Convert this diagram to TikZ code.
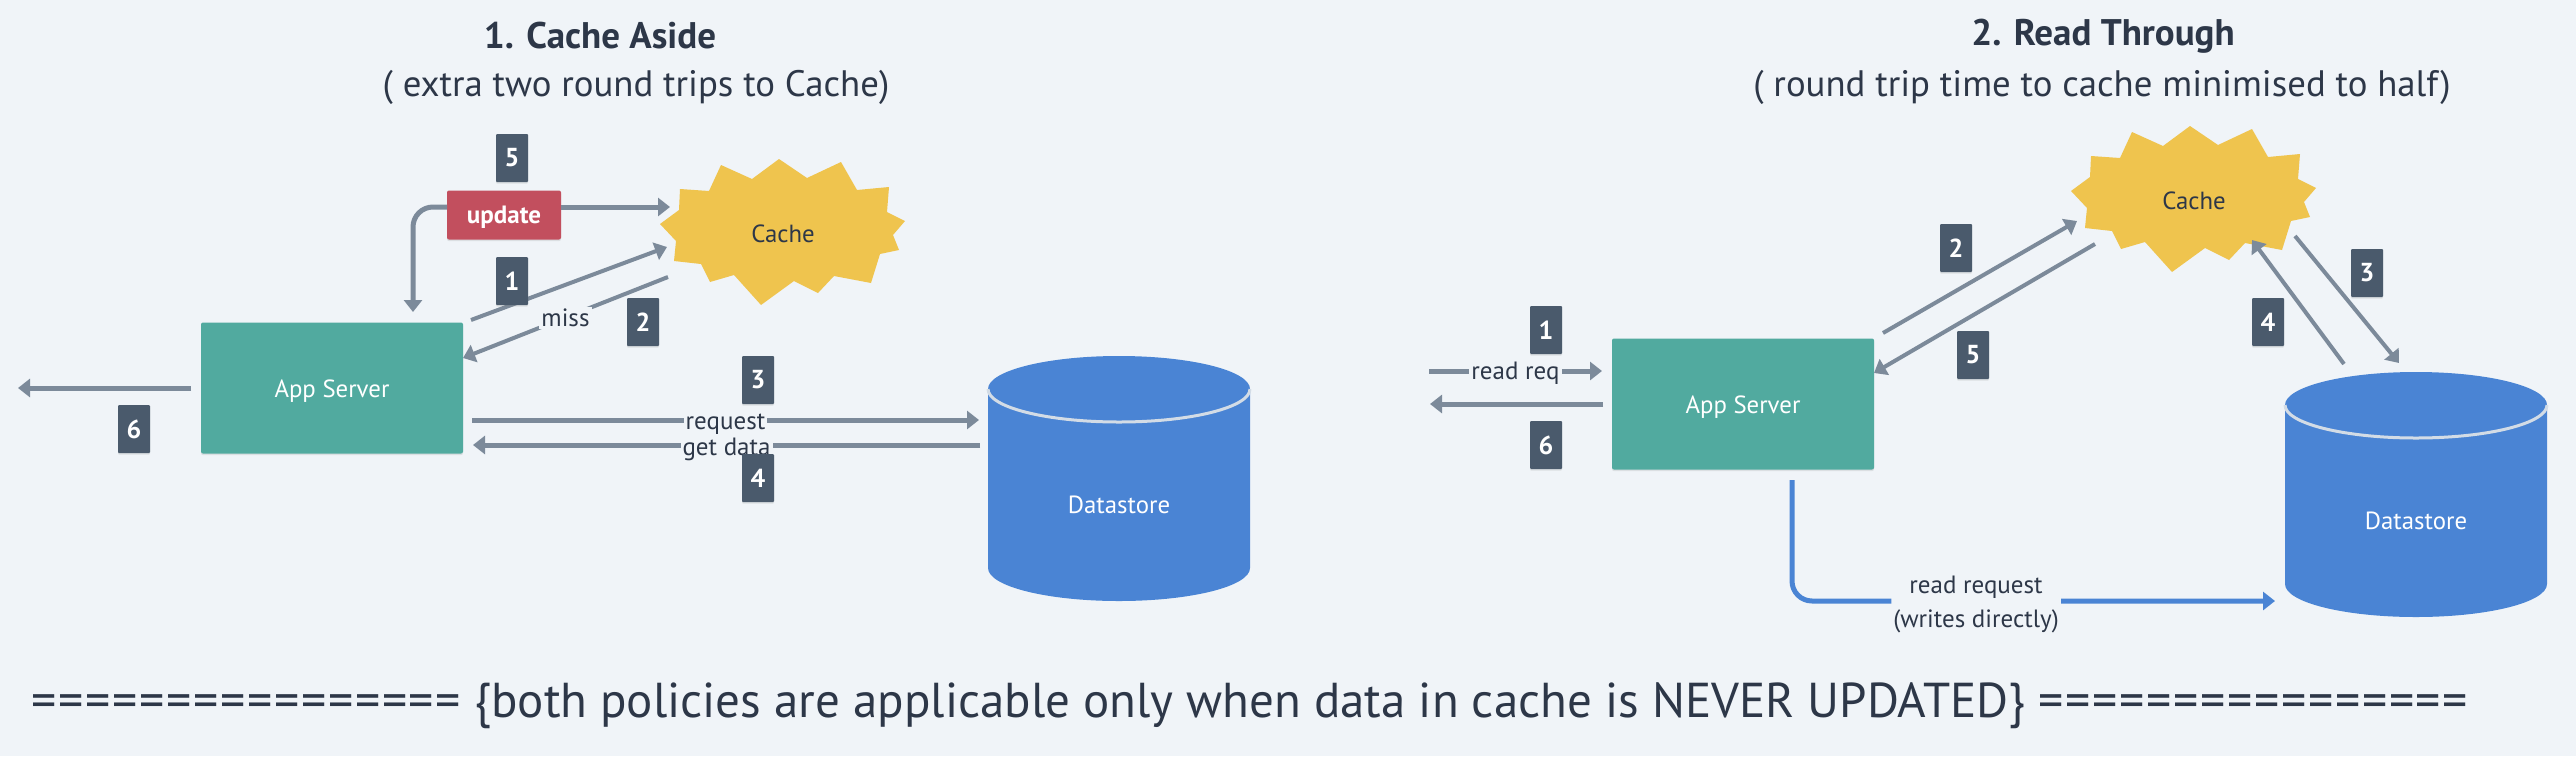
\documentclass[tikz,border=0pt]{standalone}
\usepackage{fontspec}
\setmainfont{PT Sans}
\usetikzlibrary{arrows.meta,shadows}
\definecolor{bgc}{HTML}{F0F4F8}
\definecolor{inkc}{HTML}{2D3748}
\definecolor{flowc}{HTML}{7C8A9A}
\definecolor{badgec}{HTML}{4A5A6C}
\definecolor{tealc}{HTML}{51AA9F}
\definecolor{redc}{HTML}{C24F5E}
\definecolor{yellowc}{HTML}{EFC44E}
\definecolor{bluec}{HTML}{4A84D4}
\definecolor{rimc}{HTML}{D3DCE6}
\tikzset{
  softshadow/.style={drop shadow={shadow xshift=0pt,shadow yshift=-0.8pt,opacity=.18}},
  flow/.style={draw=flowc,line width=2.5pt,-{Triangle[length=6pt,width=9pt]}},
  thinflow/.style={flow,line width=2pt},
  bluearrow/.style={flow,draw=bluec,rounded corners=10pt},
  lab/.style={fill=bgc,text=inkc,font=\fontsize{12.5}{15}\selectfont,inner sep=1pt,align=center},
  badge/.style={fill=badgec,text=white,font=\fontsize{13}{15}\selectfont\bfseries,rounded corners=0.5pt,
    minimum width=16pt,minimum height=24pt,inner sep=0pt,softshadow},
  appbox/.style={fill=tealc,text=white,font=\fontsize{12.4}{15}\selectfont,rounded corners=1pt,
    minimum width=131pt,minimum height=65.5pt,inner sep=0pt,text height=12pt,text depth=2.5pt,softshadow},
  updbox/.style={fill=redc,text=white,font=\fontsize{12.5}{15}\selectfont\bfseries,rounded corners=1pt,
    minimum width=57pt,minimum height=24.5pt,inner sep=0pt,text height=11pt,text depth=2.5pt,softshadow},
  heading/.style={text=inkc,font=\fontsize{18.5}{22}\selectfont\bfseries,inner sep=0pt},
  subheading/.style={text=inkc,font=\fontsize{18.4}{22}\selectfont,inner sep=0pt},
  boxtext/.style={font=\fontsize{12.4}{15}\selectfont,inner sep=0pt},
}
\newcommand{\cachestar}[2]{
  \fill[yellowc,shift={(#1,#2)}] (-4,-75) -- (24,-56) -- (58,-72) -- (74,-44) -- (106,-47) -- (104,-22)
    -- (122,-13) -- (110,1) -- (116,16) -- (97,20) -- (88,49) -- (51,42) -- (35,59) -- (11,47)
    -- (-22,71) -- (-49,41) -- (-73,48) -- (-82,30) -- (-109,27) -- (-107,7) -- (-123,-10)
    -- (-104,-24) -- (-103,-45) -- (-74,-43) -- (-62,-69) -- (-31,-55) -- cycle;
}
\newcommand{\datastore}[2]{
  \fill[bluec,shift={(#1,#2)}] (-131,33) arc[start angle=180,end angle=0,x radius=65.5pt,y radius=16.5pt]
    -- (131,212) arc[start angle=0,end angle=-180,x radius=65.5pt,y radius=16.5pt] -- cycle;
  \draw[rimc,line width=1.5pt,shift={(#1,#2)}] (-131,33) arc[start angle=180,end angle=360,x radius=65.5pt,y radius=16.5pt];
}
\newcommand{\eqrun}{{\addfontfeature{LetterSpace=3.4}\fontsize{25}{28}\selectfont ================}}
\begin{document}
\begin{tikzpicture}[x=0.5pt,y=-0.5pt]
  \fill[bgc] (0,0) rectangle (2576,756);
  \useasboundingbox (0,0) rectangle (2576,756);

  \node[heading] (title1) at (600,36) {1. Cache Aside};
  \node[subheading] (sub1) at (636,87) {( extra two round trips to Cache)};
  \cachestar{783}{234}
  \datastore{1119}{356}
  \node[boxtext,text=inkc] (cache1) at (783,234) {Cache};
  \node[boxtext,text=white] (store1) at (1119,505) {Datastore};
  \node[appbox] (app1) at (332,388) {App Server};
  \node[updbox] (upd1) at (504,215) {update};

  \coordinate (upd1r) at (561,207);
  \coordinate (upd1l) at (447,207);
  \coordinate (upd1c) at (413,207);
  \coordinate (cache1a) at (670,207);
  \coordinate (app1a) at (413,312);
  \coordinate (hit1s) at (471,320);
  \coordinate (hit1e) at (667,247);
  \coordinate (miss1s) at (668,277);
  \coordinate (miss1e) at (463,358);
  \coordinate (req1s) at (472,420);
  \coordinate (req1e) at (979,420);
  \coordinate (get1s) at (980,445);
  \coordinate (get1e) at (473,445);
  \coordinate (out1s) at (191,388);
  \coordinate (out1e) at (18,388);

  \draw[flow] (upd1r) -- (cache1a);
  \draw[flow,rounded corners=10pt] (upd1l) -- (upd1c) -- (app1a);
  \draw[thinflow] (hit1s) -- (hit1e);
  \draw[thinflow] (miss1s) -- node[lab] (missl) {miss} (miss1e);
  \draw[flow] (req1s) -- node[lab,yshift=-2pt] (reql) {request} (req1e);
  \draw[flow] (get1s) -- node[lab,yshift=-2pt] (getl) {get data} (get1e);
  \draw[flow] (out1s) -- (out1e);

  \node[badge] (b15) at (512,158) {5};
  \node[badge] (b11) at (512,281) {1};
  \node[badge] (b12) at (643,322) {2};
  \node[badge] (b13) at (758,380) {3};
  \node[badge] (b14) at (758,478) {4};
  \node[badge] (b16) at (134,429) {6};

  \node[heading] (title2) at (2103,36) {2. Read Through};
  \node[subheading] (sub2) at (2102,87) {( round trip time to cache minimised to half)};
  \cachestar{2194}{201}
  \datastore{2416}{372}
  \node[boxtext,text=inkc] (cache2) at (2194,201) {Cache};
  \node[boxtext,text=white] (store2) at (2416,521) {Datastore};
  \node[appbox] (app2) at (1743,404) {App Server};

  \coordinate (rd2s) at (1429,371);
  \coordinate (rd2e) at (1602,371);
  \coordinate (out2s) at (1603,404);
  \coordinate (out2e) at (1430,404);
  \coordinate (to2s) at (1883,333);
  \coordinate (to2e) at (2077,221);
  \coordinate (back2s) at (2095,244);
  \coordinate (back2e) at (1874,373);
  \coordinate (down2s) at (2295,236);
  \coordinate (down2e) at (2399,363);
  \coordinate (up2s) at (2344,364);
  \coordinate (up2e) at (2252,240);
  \coordinate (wr2s) at (1792,480);
  \coordinate (wr2c) at (1792,601);
  \coordinate (wr2e) at (2275,601);

  \draw[flow] (rd2s) -- node[lab,yshift=-1pt] (rdl) {read req} (rd2e);
  \draw[flow] (out2s) -- (out2e);
  \draw[thinflow] (to2s) -- (to2e);
  \draw[thinflow] (back2s) -- (back2e);
  \draw[thinflow] (down2s) -- (down2e);
  \draw[thinflow] (up2s) -- (up2e);
  \draw[bluearrow] (wr2s) -- (wr2c) -- node[lab,pos=.381,yshift=-1.5pt] (wrl) {read request\\[2pt](writes directly)} (wr2e);

  \node[badge] (b21) at (1546,330) {1};
  \node[badge] (b22) at (1956,248) {2};
  \node[badge] (b23) at (2367,273) {3};
  \node[badge] (b24) at (2268,322) {4};
  \node[badge] (b25) at (1973,355) {5};
  \node[badge] (b26) at (1546,445) {6};

  \node[text=inkc,font=\fontsize{24.5}{28}\selectfont,inner sep=0pt] (note) at (1250,706)
    {\eqrun{} \{both policies are applicable only when data in cache is NEVER UPDATED\} \eqrun};
\end{tikzpicture}
\end{document}
